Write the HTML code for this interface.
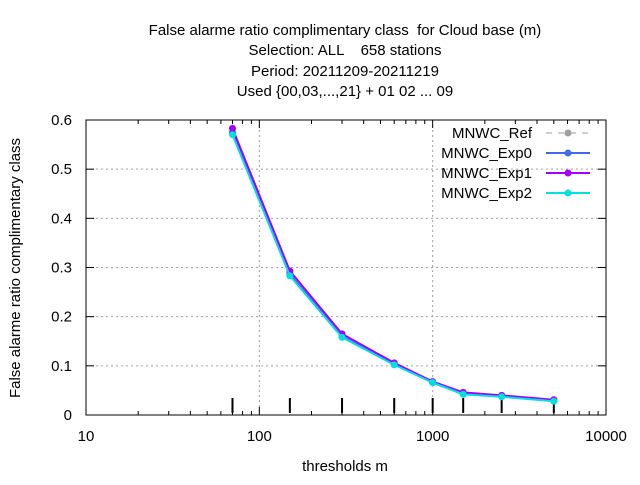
<!DOCTYPE html>
<html><head><meta charset="utf-8"><style>
body{margin:0;background:#fff}
svg{font-family:"Liberation Sans",sans-serif;font-size:15px}
</style></head><body>
<svg id="chart" width="640" height="480" xmlns="http://www.w3.org/2000/svg">
<g text-anchor="middle" fill="#000">
<text x="345" y="35" xml:space="preserve">False alarme ratio complimentary class  for Cloud base (m)</text>
<text x="345" y="55" xml:space="preserve">Selection: ALL    658 stations</text>
<text x="345" y="76">Period: 20211209-20211219</text>
<text x="345" y="96">Used {00,03,...,21} + 01 02 ... 09</text>
</g>
<g id="grid"></g>
<g id="axes"></g>
<g id="series"></g>
<g id="legend"></g>
<text x="345" y="471" text-anchor="middle">thresholds m</text>
<text transform="translate(20,268) rotate(-90)" text-anchor="middle">False alarme ratio complimentary class</text>
</svg>
<script>
const thresholds=[70,150,300,600,1000,1500,2500,5000];
const seriesNames=["MNWC_Ref","MNWC_Exp0","MNWC_Exp1","MNWC_Exp2"];
const refValues=[0.575,0.286,0.160,0.103,0.066,0.043,0.038,0.029];
const exp0Values=[0.575,0.286,0.160,0.103,0.066,0.043,0.038,0.029];
const exp1Values=[0.583,0.293,0.165,0.106,0.068,0.046,0.040,0.031];
const exp2Values=[0.570,0.283,0.158,0.102,0.066,0.042,0.037,0.028];
const yTicks=[0,0.1,0.2,0.3,0.4,0.5,0.6];
const xTicks=[10,100,1000,10000];
const L=86,R=606,T=120,B=415;
const X=v=>L+(Math.log10(v)-1)/3*(R-L);
const Y=v=>B-v/0.6*(B-T);
const NS="http://www.w3.org/2000/svg";
function mk(tag,parent,attrs){const e=document.createElementNS(NS,tag);for(const k in attrs)e.setAttribute(k,attrs[k]);parent.appendChild(e);return e;}
const grid=document.getElementById('grid'),axes=document.getElementById('axes'),ser=document.getElementById('series'),leg=document.getElementById('legend');
yTicks.forEach(v=>{
 if(v>0&&v<0.6){const g=mk('line',grid,{x1:L,x2:R,y1:Y(v),y2:Y(v),stroke:'#a0a0a0','stroke-dasharray':'2,3'});
 }
 const t=mk('text',axes,{x:L-14,y:Y(v)+5,'text-anchor':'end'});t.textContent=v===0?'0':v.toFixed(1);
 
 mk('line',axes,{x1:L,x2:L+8,y1:Y(v),y2:Y(v),stroke:'#000'});mk('line',axes,{x1:R,x2:R-8,y1:Y(v),y2:Y(v),stroke:'#000'});
});
xTicks.forEach(v=>{
 if(v>10&&v<10000){const g=mk('line',grid,{x1:X(v),x2:X(v),y1:T,y2:B,stroke:'#a0a0a0','stroke-dasharray':'2,3'});
 }
 const t=mk('text',axes,{x:X(v),y:B+26,'text-anchor':'middle'});t.textContent=String(v);
 
 mk('line',axes,{x1:X(v),x2:X(v),y1:B,y2:B-8,stroke:'#000'});mk('line',axes,{x1:X(v),x2:X(v),y1:T,y2:T+8,stroke:'#000'});
 if(v<10000)for(let m=2;m<10;m++){const xm=X(v*m);mk('line',axes,{x1:xm,x2:xm,y1:B,y2:B-4,stroke:'#000'});mk('line',axes,{x1:xm,x2:xm,y1:T,y2:T+4,stroke:'#000'});}
});
const frame=mk('rect',axes,{x:L,y:T,width:R-L,height:B-T,fill:'none',stroke:'#000'});

thresholds.forEach(v=>{const b=mk('line',axes,{x1:X(v),x2:X(v),y1:B-17,y2:B-2,stroke:'#000','stroke-width':2});
 });
const all=[refValues,exp0Values,exp1Values,exp2Values];
const colors=['#a0a0a0','#4169e1','#a000ff','#00e0e0'];
all.forEach((vals,i)=>{
 const g=mk('g',ser,{});
 
 
 const pts=thresholds.map((t,j)=>X(t)+','+Y(vals[j])).join(' ');
 mk('polyline',g,{points:pts,fill:'none',stroke:colors[i],'stroke-width':i===0?1:2,'stroke-dasharray':i===0?'6,6':'none'});
 thresholds.forEach((t,j)=>{const p=mk('circle',g,{cx:X(t),cy:Y(vals[j]),r:3.5,fill:colors[i]});
  });
 const ly=133+i*20;
 const lt=mk('text',leg,{x:532,y:ly+5,'text-anchor':'end'});lt.textContent=seriesNames[i];
 
 mk('line',leg,{x1:546,x2:590,y1:ly,y2:ly,stroke:colors[i],'stroke-width':i===0?1:2,'stroke-dasharray':i===0?'6,6':'none'});
 mk('circle',leg,{cx:568,cy:ly,r:3.5,fill:colors[i]});
});
</script>
</body></html>
